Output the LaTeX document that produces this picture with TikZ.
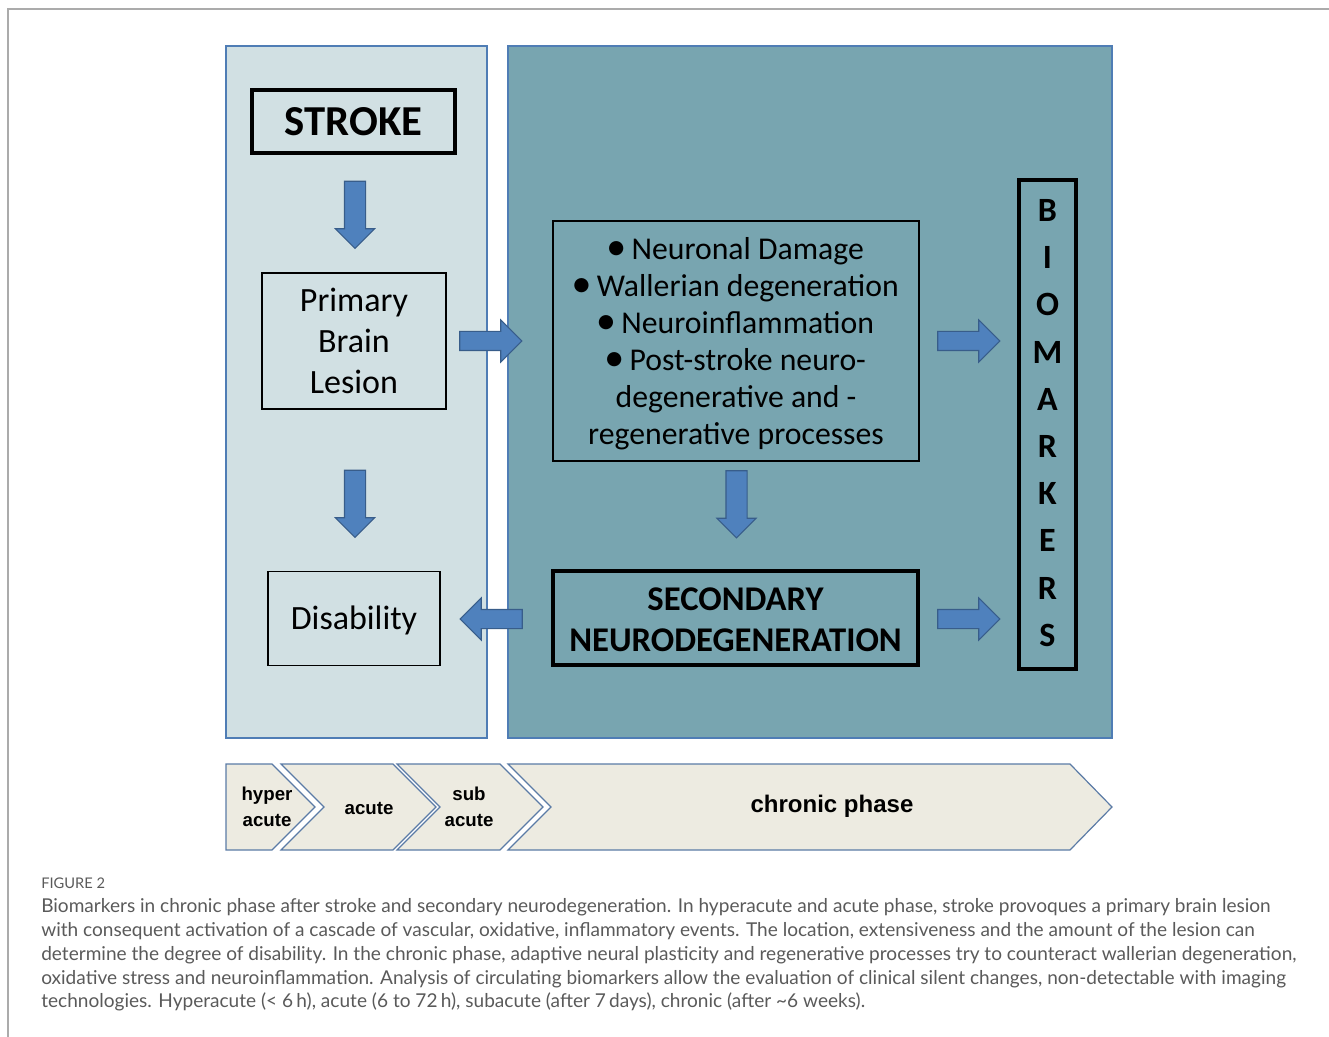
\documentclass[tikz,border=0pt]{standalone}
\usepackage{fontspec}
\setmainfont{Carlito}
\newfontfamily\capfont{Lato}
\newfontfamily\arialfont{Liberation Sans}
\newfontfamily\symfont{DejaVu Sans}
\newcommand{\dotmark}{\raisebox{4.5pt}{\symfont\fontsize{14}{14}\selectfont ●}}
\usetikzlibrary{shapes.arrows}
\definecolor{panellight}{HTML}{D1E0E3}
\definecolor{paneldark}{HTML}{78A5B0}
\definecolor{panelline}{HTML}{4F7DB5}
\definecolor{arrowfill}{HTML}{4F81BD}
\definecolor{arrowline}{HTML}{385D8A}
\definecolor{phasefill}{HTML}{EDEBE1}
\definecolor{phaseline}{HTML}{5B7BA6}
\definecolor{captext}{HTML}{5A5A5A}
\definecolor{frameline}{HTML}{ABABAB}

\begin{document}
\begin{tikzpicture}[
            x=0.75pt, y=-0.75pt,
            panel/.style={draw=panelline, line width=0.9pt},
            box/.style={rectangle, draw=black, line width=0.8pt, inner sep=0pt},
            thickbox/.style={box, line width=3pt},
            fatarrow/.style={single arrow, draw=arrowline, fill=arrowfill, line width=0.8pt, single arrow tip angle=90, inner xsep=0pt},
            harrow/.style={fatarrow, inner ysep=6.75pt, minimum height=46.5pt, single arrow head extend=8.6pt},
            varrow/.style={fatarrow, inner ysep=7.5pt, minimum height=50.25pt, single arrow head extend=6.75pt, rotate=-90},
            phase/.style={draw=phaseline, fill=phasefill, line width=0.9pt},
            phasetext/.style={inner sep=0pt, font=\arialfont\bfseries\fontsize{14}{19.5}\selectfont},
            caption/.style={anchor=base west, inner sep=0pt, text=captext, font=\capfont\fontsize{14.3}{18}\selectfont},
        ]
            \useasboundingbox (0,0) rectangle (1329,1037);
            \draw[frameline, line width=1pt] (8,1037) -- (8,9) -- (1329,9);

            % the two phases
            \draw[panel, fill=panellight] (226,46) rectangle (487,738);
            \draw[panel, fill=paneldark] (508,46) rectangle (1112,738);

            % left column
            \node(stroke) at (353.5,121.5) [thickbox, minimum width=152pt, minimum height=47.5pt, font=\bfseries\fontsize{32}{38}\selectfont] {STROKE};
            \node(lesion) at (354,341) [box, minimum width=138pt, minimum height=102pt, font=\fontsize{25.5}{30.75}\selectfont] {\raisebox{-2.25pt}[\height][\depth]{\begin{tabular}{c} Primary \\ Brain \\ Lesion \end{tabular}}};
            \node(disab) at (354,618.5) [box, minimum width=129pt, minimum height=71pt, font=\fontsize{25.5}{30.75}\selectfont] {\raisebox{-1.5pt}[\height][\depth]{Disability}};

            % right column
            \node(damage) at (736,341) [box, minimum width=274.5pt, minimum height=180pt, font=\fontsize{23.8}{27.75}\selectfont] {\raisebox{-3pt}[\height][\depth]{\begin{tabular}{c} \dotmark\ Neuronal Damage \\ \dotmark\ Wallerian degeneration \\ \dotmark\ Neuroinflammation \\ \dotmark\ Post-stroke neuro- \\ degenerative and - \\ regenerative processes \end{tabular}}};
            \node(second) at (735.5,618) [thickbox, minimum width=274pt, minimum height=71pt, font=\bfseries\fontsize{26}{30.75}\selectfont] {\raisebox{-3.75pt}[\height][\depth]{\begin{tabular}{c} SECONDARY \\ NEURODEGENERATION \end{tabular}}};
            \node(biom) at (1047.5,424.5) [thickbox, minimum width=43pt, minimum height=366pt, font=\bfseries\fontsize{25.5}{35.4}\selectfont] {\begin{tabular}{c} B \\ I \\ O \\ M \\ A \\ R \\ K \\ E \\ R \\ S \end{tabular}};

            % block arrows
            \node(d1) at (355,209.5) [varrow] {};
            \node(d2) at (355,498.5) [varrow] {};
            \node(d3) at (736.5,499) [varrow] {};
            \node(r1) at (486,341) [harrow] {};
            \node(r2) at (964,341) [harrow] {};
            \node(r3) at (964,619) [harrow] {};
            \node(l1) at (496,619) [harrow, rotate=180] {};

            % time line
            \draw[phase] (226,764) -- (272,764) -- (315,807) -- (272,850) -- (226,850) -- cycle;
            \draw[phase] (281,764) -- (393,764) -- (436,807) -- (393,850) -- (281,850) -- (324,807) -- cycle;
            \draw[phase] (397,764) -- (500,764) -- (543,807) -- (500,850) -- (397,850) -- (440,807) -- cycle;
            \draw[phase] (508,764) -- (1070,764) -- (1112,807) -- (1070,850) -- (508,850) -- (551,807) -- cycle;
            \node(hyper) at (267,808) [phasetext] {\begin{tabular}{c} hyper \\ acute \end{tabular}};
            \node(acute) at (369,809) [phasetext] {acute};
            \node(sub) at (469,808) [phasetext] {\begin{tabular}{c} sub \\ acute \end{tabular}};
            \node(chronic) at (832,806) [phasetext, font=\arialfont\bfseries\fontsize{18}{22}\selectfont] {chronic phase};

            % caption
            \node(fig) at (41,888) [caption, font=\capfont\fontsize{11}{13}\selectfont] {FIGURE 2};
            \node(c1) at (41,912) [caption] {Biomarkers in chronic phase after stroke and secondary neurodegeneration. In hyperacute and acute phase, stroke provoques a primary brain lesion};
            \node(c2) at (41,936) [caption] {with consequent activation of a cascade of vascular, oxidative, inflammatory events. The location, extensiveness and the amount of the lesion can};
            \node(c3) at (41,960) [caption] {determine the degree of disability. In the chronic phase, adaptive neural plasticity and regenerative processes try to counteract wallerian degeneration,};
            \node(c4) at (41,984) [caption] {oxidative stress and neuroinflammation. Analysis of circulating biomarkers allow the evaluation of clinical silent changes, non-detectable with imaging};
            \node(c5) at (41,1007) [caption] {technologies. Hyperacute (< 6\,h), acute (6 to 72\,h), subacute (after 7\,days), chronic (after \textasciitilde 6 weeks).};
        \end{tikzpicture}
\end{document}
